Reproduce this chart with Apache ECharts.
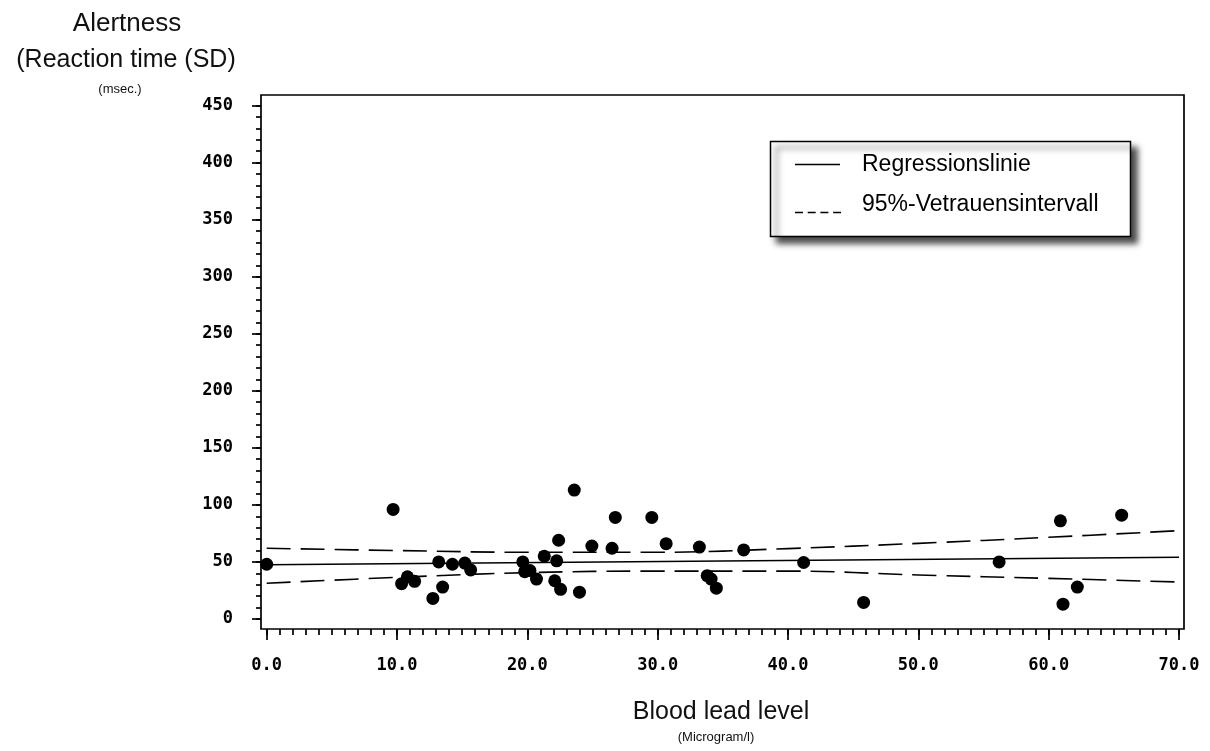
<!DOCTYPE html>
<html>
<head>
<meta charset="utf-8">
<script src="https://cdn.jsdelivr.net/npm/echarts@6/dist/echarts.min.js"></script>
<style>
  html, body { margin: 0; padding: 0; background: #fff; }
  #chart { width: 1210px; height: 751px; }
</style>
</head>
<body>
<div id="chart"></div>
<script>
// ---- data ----
const leadLevel = [0.0, 9.7, 10.35, 10.8, 11.35, 12.75, 13.2, 13.5, 14.25, 15.2, 15.65,
  19.65, 19.8, 20.2, 20.7, 21.3, 22.4, 22.25, 22.1, 22.55, 23.6, 24.0, 24.95, 26.5, 26.75,
  29.55, 30.65, 33.2, 33.8, 34.1, 34.5, 36.6, 41.2, 45.8, 56.2, 60.9, 61.1, 62.2, 65.6];
const reactionSD = [48, 96, 31, 37, 33, 18, 50, 28, 48, 49, 43,
  50, 41.5, 42.5, 35, 55, 69, 51, 33.5, 26, 113, 23.5, 64, 62, 89,
  89, 66, 63, 38, 35, 27, 60.5, 49.5, 14.5, 50, 86, 13, 28, 91];

const fitX = [0, 70];
const fitY = [47.6, 54.1];

const ciX     = [0, 10, 20, 30, 40, 50, 60, 70];
const ciUpper = [62, 60, 58.5, 58.5, 61.7, 66.3, 71.6, 77.4];
const ciLower = [31.3, 36.5, 40.6, 42, 42, 38.6, 35.6, 32.4];

const xTicks = [0, 10, 20, 30, 40, 50, 60, 70];
const xTickLabels = ['0.0', '10.0', '20.0', '30.0', '40.0', '50.0', '60.0', '70.0'];
const yTicks = [0, 50, 100, 150, 200, 250, 300, 350, 400, 450];
const yTickLabels = ['0', '50', '100', '150', '200', '250', '300', '350', '400', '450'];
const xMinorStep = 1;
const yMinorStep = 10;

const legendNames = ['Regressionslinie', '95%-Vetrauensintervall'];
const yTitle = ['Alertness', '(Reaction time (SD)', '(msec.)'];
const xTitle = ['Blood lead level', '(Microgram/l)'];

// ---- build chart ----
const zip = (xs, ys) => xs.map((x, i) => [x, ys[i]]);
const steps = (from, to, step) => { const r = []; for (let v = from; v <= to + 1e-9; v += step) r.push(+v.toFixed(6)); return r; };
const xMinor = steps(xTicks[0], xTicks[xTicks.length - 1], xMinorStep);
const yMinor = steps(yTicks[0], yTicks[yTicks.length - 1], yMinorStep);

// the frame extends a little beyond the first/last tick (as in the SAS plot)
const xMin = -0.437, xMax = 70.384;
const yMin = -8.76, yMax = 459.2;

const tickFont = { fontFamily: 'DejaVu Sans Mono', fontWeight: 'bold', fontSize: 17, color: '#000' };
const tickLine = { color: '#000', width: 1.7 };

const chart = echarts.init(document.getElementById('chart'), null, { renderer: 'canvas' });
const option = {
  animation: false,
  backgroundColor: '#fff',
  grid: { left: 261, right: 26, top: 95, bottom: 122, containLabel: false, outerBoundsMode: 'none',
          show: true, borderColor: '#000', borderWidth: 1.7, backgroundColor: 'transparent' },
  xAxis: [
    {
      type: 'value', min: xMin, max: xMax, position: 'bottom',
      axisLine: { show: false, onZero: false },
      axisTick: { show: true, length: 11, lineStyle: tickLine, customValues: xTicks },
      splitLine: { show: false },
      axisLabel: Object.assign({ margin: 28, customValues: xTicks,
        formatter: v => xTickLabels[xTicks.indexOf(Math.round(v))] }, tickFont)
    },
    {
      type: 'value', min: xMin, max: xMax, position: 'bottom', gridIndex: 0,
      axisLine: { show: false, onZero: false },
      axisTick: { show: true, length: 6, lineStyle: tickLine, customValues: xMinor },
      axisLabel: { show: false },
      splitLine: { show: false }
    }
  ],
  yAxis: [
    {
      type: 'value', min: yMin, max: yMax, position: 'left',
      axisLine: { show: false, onZero: false },
      axisTick: { show: true, length: 9, lineStyle: tickLine, customValues: yTicks },
      splitLine: { show: false },
      axisLabel: Object.assign({ margin: 28, customValues: yTicks,
        formatter: v => yTickLabels[yTicks.indexOf(Math.round(v))] }, tickFont)
    },
    {
      type: 'value', min: yMin, max: yMax, position: 'left', gridIndex: 0,
      axisLine: { show: false, onZero: false },
      axisTick: { show: true, length: 5, lineStyle: tickLine, customValues: yMinor },
      axisLabel: { show: false },
      splitLine: { show: false }
    }
  ],
  series: [
    {
      name: legendNames[1], type: 'line', data: zip(ciX, ciUpper), smooth: 0.4,
      showSymbol: false, symbol: 'none', silent: true,
      lineStyle: { color: '#000', width: 1.6, type: [24, 10] }
    },
    {
      name: legendNames[1], type: 'line', data: zip(ciX, ciLower), smooth: 0.4,
      showSymbol: false, symbol: 'none', silent: true,
      lineStyle: { color: '#000', width: 1.6, type: [24, 10] }
    },
    {
      name: legendNames[0], type: 'line', data: zip(fitX, fitY),
      showSymbol: false, symbol: 'none', silent: true,
      lineStyle: { color: '#000', width: 1.5, type: 'solid' }
    },
    {
      name: 'Messwerte', type: 'scatter', data: zip(leadLevel, reactionSD),
      symbol: 'circle', symbolSize: 13, itemStyle: { color: '#000', opacity: 1 }, z: 5
    }
  ],
  graphic: [
    // legend box
    { type: 'rect', shape: { x: 770.5, y: 141.5, width: 360, height: 95 },
      style: { fill: '#fff', stroke: '#000', lineWidth: 1.5,
               shadowBlur: 6, shadowOffsetX: 6, shadowOffsetY: 6, shadowColor: 'rgba(0,0,0,0.7)' },
      z: 20, silent: true },
    { type: 'line', shape: { x1: 795, y1: 164.5, x2: 840, y2: 164.5 },
      style: { stroke: '#000', lineWidth: 1.5 }, z: 21, silent: true },
    { type: 'line', shape: { x1: 795, y1: 212.5, x2: 841, y2: 212.5 },
      style: { stroke: '#000', lineWidth: 1.5, lineDash: [8, 4.7] }, z: 21, silent: true },
    { type: 'text', x: 862, y: 164.5, z: 21, silent: true,
      style: { text: legendNames[0], font: '23px "Liberation Sans", Arial, sans-serif', fill: '#000',
               align: 'left', verticalAlign: 'middle', textAlign: 'left', textVerticalAlign: 'middle' } },
    { type: 'text', x: 862, y: 204.5, z: 21, silent: true,
      style: { text: legendNames[1], font: '23px "Liberation Sans", Arial, sans-serif', fill: '#000',
               align: 'left', verticalAlign: 'middle', textAlign: 'left', textVerticalAlign: 'middle' } },
    // y-axis title
    { type: 'text', x: 127, y: 24, silent: true,
      style: { text: yTitle[0], font: '26px "Liberation Sans", Arial, sans-serif', fill: '#111',
               align: 'center', verticalAlign: 'middle', textAlign: 'center', textVerticalAlign: 'middle' } },
    { type: 'text', x: 126, y: 60, silent: true,
      style: { text: yTitle[1], font: '25px "Liberation Sans", Arial, sans-serif', fill: '#111',
               align: 'center', verticalAlign: 'middle', textAlign: 'center', textVerticalAlign: 'middle' } },
    { type: 'text', x: 120, y: 89, silent: true,
      style: { text: yTitle[2], font: '13px "Liberation Sans", Arial, sans-serif', fill: '#111',
               align: 'center', verticalAlign: 'middle', textAlign: 'center', textVerticalAlign: 'middle' } },
    // x-axis title
    { type: 'text', x: 721, y: 712, silent: true,
      style: { text: xTitle[0], font: '25px "Liberation Sans", Arial, sans-serif', fill: '#111',
               align: 'center', verticalAlign: 'middle', textAlign: 'center', textVerticalAlign: 'middle' } },
    { type: 'text', x: 716, y: 737, silent: true,
      style: { text: xTitle[1], font: '13px "Liberation Sans", Arial, sans-serif', fill: '#111',
               align: 'center', verticalAlign: 'middle', textAlign: 'center', textVerticalAlign: 'middle' } }
  ]
};
chart.setOption(option);
</script>
</body>
</html>
